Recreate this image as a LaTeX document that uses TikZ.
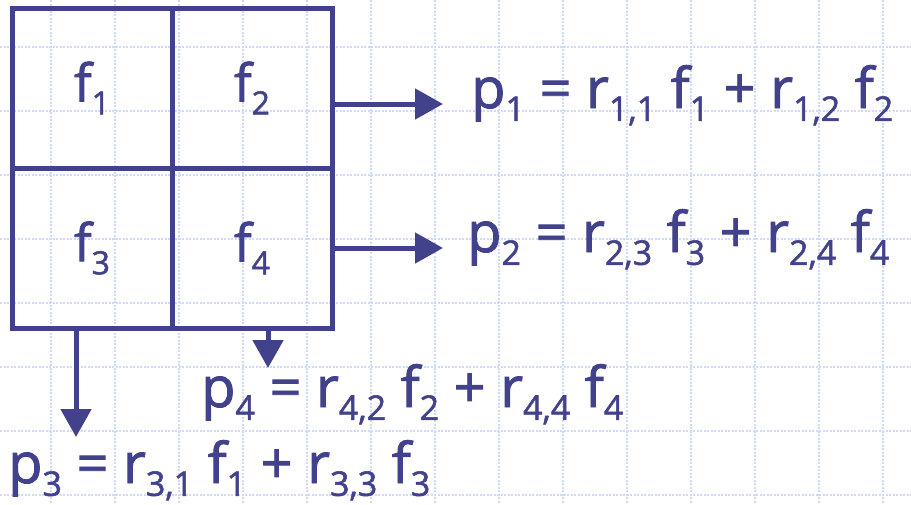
\documentclass[tikz,border=0pt]{standalone}
\usepackage{fontspec}
\setmainfont{Open Sans}[UprightFeatures={FakeBold=1.6}]
\usetikzlibrary{arrows.meta}
\definecolor{ink}{RGB}{66,66,140}
\definecolor{gridc}{RGB}{205,218,250}
\newcommand\sbx[1]{\raisebox{-0.23em}{\fontsize{34}{34}\selectfont #1}}
\newcommand\sbb[1]{\raisebox{-0.25em}{\fontsize{32}{32}\selectfont #1}}
\begin{document}
\begin{tikzpicture}[x=1pt,y=-1pt,
  every node/.style={text=ink, inner sep=0pt},
  gridline/.style={draw=gridc, line width=1.5pt, dash pattern=on 2pt off 1.5pt},
  cell/.style={draw=ink, line width=5pt, minimum width=160pt, minimum height=160pt, font=\fontsize{52}{52}\selectfont},
  formula/.style={anchor=base west, font=\fontsize{56}{56}\selectfont},
  arr/.style={draw=ink, line width=5pt, -{Triangle[length=28pt,width=30pt]}}]
\useasboundingbox (0,0) rectangle (911,504);
\fill[white] (0,0) rectangle (911,504);
\foreach \y in {47,111,...,495} \draw[gridline] (0,\y) -- (911,\y);
\foreach \x in {51,115,...,883} \draw[gridline] (\x,0) -- (\x,504);
\node[cell] (c1) at (92,88) {f\sbb{1}};
\node[cell] (c2) at (252,88) {f\sbb{2}};
\node[cell] (c3) at (92,248) {f\sbb{3}};
\node[cell] (c4) at (252,248) {f\sbb{4}};
\node[formula] (p1) at (471,108) {p\sbx{1} = r\sbx{1,1} f\sbx{1} + r\sbx{1,2} f\sbx{2}};
\node[formula] (p2) at (467,252) {p\sbx{2} = r\sbx{2,3} f\sbx{3} + r\sbx{2,4} f\sbx{4}};
\node[formula] (p4) at (201,407) {p\sbx{4} = r\sbx{4,2} f\sbx{2} + r\sbx{4,4} f\sbx{4}};
\node[formula] (p3) at (8,483) {p\sbx{3} = r\sbx{3,1} f\sbx{1} + r\sbx{3,3} f\sbx{3}};
\coordinate (t1) at (443,104);
\coordinate (t2) at (443,248);
\coordinate (t3) at (76,437);
\coordinate (t4) at (268,368);
\draw[arr] (t1 -| c2.east) -- (t1);
\draw[arr] (t2 -| c4.east) -- (t2);
\draw[arr] (t3 |- c3.south) -- (t3);
\draw[arr] (t4 |- c4.south) -- (t4);
\end{tikzpicture}
\end{document}
